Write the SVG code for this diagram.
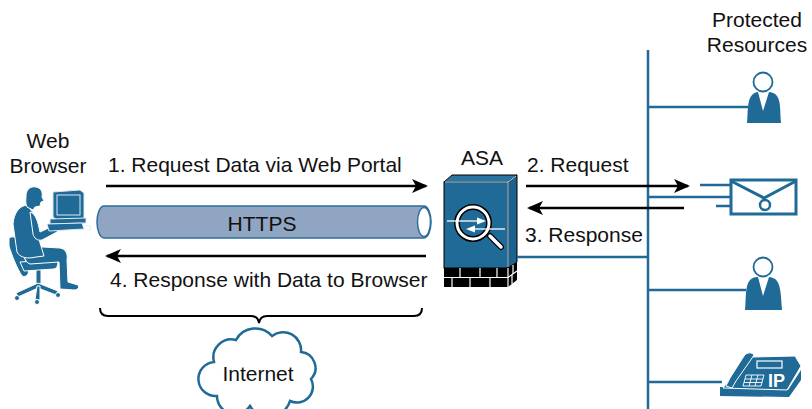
<svg xmlns="http://www.w3.org/2000/svg" width="812" height="409" viewBox="0 0 812 409">
  <defs>
    <style>
      .lbl { font-family: "Liberation Sans", Arial, sans-serif; font-size: 21px; fill: #111; }
      .blue { fill: #1f6a97; }
      .wire { stroke: #1f6a97; stroke-width: 2.5; fill: none; }
      .arrow { stroke: #000; stroke-width: 2.5; fill: none; }
      .edge { stroke: #fff; stroke-width: 1; }
    </style>
    <marker id="head" markerUnits="userSpaceOnUse" markerWidth="16" markerHeight="14" refX="14" refY="7" orient="auto">
      <path d="M0,0 L16,7 L0,14 L4,7 Z" fill="#000"/>
    </marker>
  </defs>

  <rect width="812" height="409" fill="#fff"/>

  <!-- web browser user at a workstation -->
  <g id="browser">
    <text class="lbl" x="48" y="148" text-anchor="middle">Web</text>
    <text class="lbl" x="48" y="173" text-anchor="middle">Browser</text>
    <g class="blue edge">
      <!-- chair base and pedestal -->
      <path d="M36,268 L41,268 L41,284 L36,284 Z"/>
      <path d="M38,283 L16,293 L18,297 L38,288 L56,295 L58,291 Z"/>
      <path d="M37,286 L35,300 L40,300 L40,286 Z"/>
      <circle cx="17" cy="298" r="2.5"/>
      <circle cx="37" cy="302" r="2.5"/>
      <circle cx="58" cy="295" r="2.5"/>
      <!-- chair back -->
      <path d="M9,238 C14,235 18,238 20,244 L28,268 C30,274 26,278 22,276 C17,268 12,256 9,246 Z"/>
      <!-- seat -->
      <path d="M20,262 L56,260 C59,262 58,268 54,269 L24,271 Z"/>
      <!-- leg and foot -->
      <path d="M26,246 L60,248 C66,249 68,254 67,260 L68,282 L78,285 C80,288 77,290 74,290 L60,289 L59,262 L30,264 C24,262 22,252 26,246 Z"/>
      <!-- torso -->
      <path d="M27,205 C19,206 14,213 13,224 L17,252 C20,258 28,259 36,257 L44,256 L38,236 L34,214 Z"/>
      <!-- arm reaching the keyboard -->
      <path d="M30,212 C36,214 38,222 40,232 L55,225 L60,228 L57,232 L42,240 C37,241 34,238 33,234 Z"/>
      <!-- head -->
      <path d="M26,196 C26,189 31,186 36,187 C41,188 43,192 42,197 L44,201 L41,202 L40,206 L35,207 L33,210 L27,207 C25,203 26,199 26,196 Z"/>
    </g>
    <!-- monitor, base unit and keyboard -->
    <g class="blue" stroke="#dfe9f1" stroke-width="1">
      <path d="M53,192 L80,190 L84,193 L84,219 L57,220 L53,217 Z"/>
      <rect x="57" y="195" width="23" height="20"/>
      <path d="M50,219 L86,218 L86,223 L50,224 Z"/>
      <path d="M47,224 L82,223 L84,229 L49,231 Z"/>
      <path d="M86,226 C90,224 92,228 89,231" fill="none"/>
    </g>
  </g>

  <!-- ASA firewall -->
  <g id="asa">
    <text class="lbl" x="482" y="165" text-anchor="middle">ASA</text>
    <g stroke="#000" stroke-width="1">
      <path d="M444,182 L452,175 L517,175 L508,182 Z" fill="#2a74a3"/>
      <path d="M508,182 L517,175 L517,262 L508,268 Z" fill="#1b628e"/>
      <rect x="444" y="182" width="64" height="86" fill="#1f6a97"/>
    </g>
    <path d="M445,182 L508,182 L516,176 M508,182 L508,267" stroke="#cfe0ec" stroke-width="1" fill="none"/>
    <!-- brick base -->
    <path d="M444,268 L508,268 L517,262 L517,280 L508,287 L444,287 Z" fill="#000"/>
    <g stroke="#fff" stroke-width="1.2" fill="none">
      <path d="M444,277.5 L508,277.5 L517,271"/>
      <path d="M508,268 L508,287"/>
      <path d="M460,268 V277 M480,268 V277 M497,268 V277"/>
      <path d="M452,278 V287 M470,278 V287 M490,278 V287"/>
      <path d="M513,265 V274 M512,275 V284"/>
    </g>
    <!-- magnifier with two flow arrows -->
    <g fill="none" stroke-linecap="round">
      <line x1="490" y1="236" x2="501" y2="247" stroke="#000" stroke-width="6"/>
      <line x1="490" y1="236" x2="501" y2="247" stroke="#fff" stroke-width="3.5"/>
      <circle cx="473" cy="223" r="16" stroke="#000" stroke-width="6"/>
      <circle cx="473" cy="223" r="16" stroke="#fff" stroke-width="3"/>
    </g>
    <g stroke="#fff" stroke-width="1.3" fill="#fff">
      <line x1="447" y1="221" x2="478" y2="221"/>
      <path d="M486,221 L477,217.5 L477,224.5 Z" stroke="none"/>
      <line x1="505" y1="229" x2="474" y2="229"/>
      <path d="M466,229 L475,225.5 L475,232.5 Z" stroke="none"/>
    </g>
  </g>

  <!-- HTTPS tunnel -->
  <g id="tunnel">
    <path d="M104,206 L424,206 A7,16 0 0 1 424,238 L104,238 A7,16 0 0 1 104,206 Z" fill="#8fa5c1" stroke="#2d6e9c" stroke-width="1.5"/>
    <ellipse cx="424" cy="222" rx="6.5" ry="14.5" fill="#fff" stroke="#2d6e9c" stroke-width="1.5"/>
    <text class="lbl" x="262" y="231" text-anchor="middle">HTTPS</text>
  </g>

  <!-- Internet cloud -->
  <g id="internet">
    <path d="M214,362 A18,18 0 0 1 236,340 A22,22 0 0 1 272,336 A18,18 0 0 1 301,352 A16,16 0 0 1 311,379 A16,16 0 0 1 290,401 A22,22 0 0 1 250,406 A18,18 0 0 1 217,396 A16,16 0 0 1 214,362 Z" fill="#fff" stroke="#1f6a97" stroke-width="2.5"/>
    <text class="lbl" x="258" y="381" text-anchor="middle">Internet</text>
  </g>

  <!-- protected resources -->
  <g id="resources-label">
    <text class="lbl" x="757" y="27" text-anchor="middle">Protected</text>
    <text class="lbl" x="757" y="52" text-anchor="middle">Resources</text>
  </g>

  <g id="user-1">
    <circle cx="763" cy="82" r="9.5" fill="#fff" stroke="#1f6a97" stroke-width="1.8"/>
    <path class="blue" d="M747,123 C748,112 747,100 752,95 C754,93 756,92 758,92 L763,111 L769,92 C771,92 775,93 777,96 C781,101 780,113 781,123 Z"/>
  </g>

  <g id="mail-server">
    <rect x="731" y="180" width="65" height="34" fill="#fff" stroke="#1f6a97" stroke-width="3"/>
    <path d="M731,181 L764,198 L796,181" fill="none" stroke="#1f6a97" stroke-width="3"/>
    <circle cx="765" cy="205" r="5" fill="#fff" stroke="#1f6a97" stroke-width="2.5"/>
    <path d="M700,185 H731 M716,206 H731" stroke="#1f6a97" stroke-width="2.5"/>
  </g>

  <g id="user-2">
    <circle cx="763" cy="267" r="9.5" fill="#fff" stroke="#1f6a97" stroke-width="1.8"/>
    <path class="blue" d="M745,310 C746,299 745,285 750,280 C752,278 754,277 758,277 L763,296 L769,277 C771,277 775,278 777,281 C781,286 781,298 782,310 Z"/>
  </g>

  <g id="ip-phone">
    <path class="blue" d="M720,387 L788,390 L801,370 L801,380 L789,397 L720,396 Z"/>
    <path class="blue" d="M723,388 L735,372 L752,357 L795,356 L801,366 L787,390 Z" stroke="#fff" stroke-width="1"/>
    <path class="blue" d="M726,386 L730,378 L744,356 C747,352 752,352 754,355 L750,361 L736,381 L732,388 Z" stroke="#fff" stroke-width="1"/>
    <rect x="757" y="361" width="25" height="7" fill="#1f6a97" stroke="#fff" stroke-width="1.2"/>
    <g stroke="#fff" stroke-width="0.9" fill="none">
      <path d="M746,375 L764,375 L761,386 L743,386 Z"/>
      <path d="M745,379 H763 M744,382.5 H762 M752,375 L749,386 M758,375 L755,386"/>
    </g>
    <text x="768" y="387" font-family="Liberation Sans, Arial, sans-serif" font-size="18" font-weight="bold" fill="#fff">IP</text>
  </g>

  <!-- links and message flows -->
  <g id="connectors">
    <path class="wire" d="M648,50 V409 M648,107 H748 M648,197 H731 M648,290 H746 M648,382 H722 M517,257 H648"/>
    <line class="arrow" x1="106" y1="186" x2="426" y2="186" marker-end="url(#head)"/>
    <line class="arrow" x1="426" y1="256" x2="107" y2="256" marker-end="url(#head)"/>
    <line class="arrow" x1="526" y1="186" x2="688" y2="186" marker-end="url(#head)"/>
    <line class="arrow" x1="684" y1="208" x2="529" y2="208" marker-end="url(#head)"/>
    <path d="M100,308 Q100,316 108,316 L251,316 Q258,316 259,323 Q260,316 267,316 L414,316 Q422,316 422,308" fill="none" stroke="#000" stroke-width="2"/>
  </g>

  <!-- flow labels -->
  <g id="flow-labels">
    <text class="lbl" x="108" y="172">1. Request Data via Web Portal</text>
    <text class="lbl" x="527" y="172">2. Request</text>
    <text class="lbl" x="525" y="242">3. Response</text>
    <text class="lbl" x="110" y="287">4. Response with Data to Browser</text>
  </g>
</svg>
